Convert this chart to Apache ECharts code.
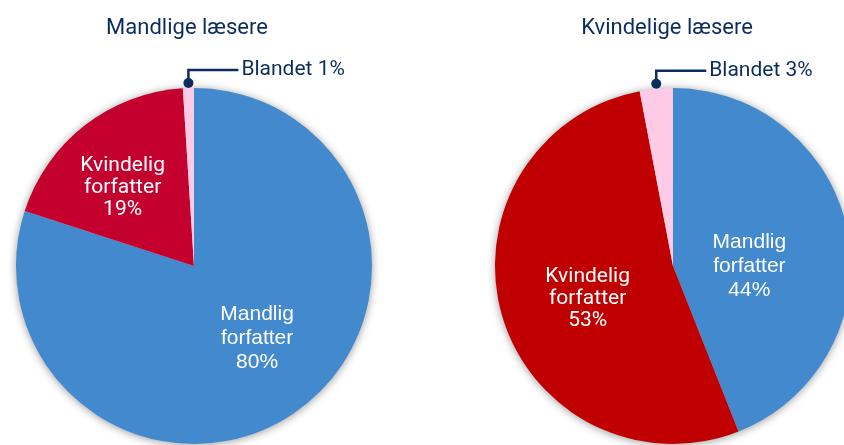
<!DOCTYPE html>
<html>
<head>
<meta charset="utf-8">
<script src="https://cdn.jsdelivr.net/npm/echarts@6/dist/echarts.min.js"></script>
<style>
  html, body { margin: 0; padding: 0; background: #fff; }
  #chart { width: 844px; height: 445px; }
</style>
</head>
<body>
<div id="chart"></div>
<script>
// data
var panelTitles = ['Mandlige læsere', 'Kvindelige læsere'];
var categories = ['Mandlig forfatter', 'Kvindelig forfatter', 'Blandet'];
var maleReaders = [80, 19, 1];
var femaleReaders = [44, 53, 3];

var navy = '#0b2d5e';
var blue = '#4389ce';
var pink = '#ffcae5';
var reds = ['#c4002f', '#c00000'];

var centers = [[194, 266], [673, 266]];
var R = 178;
// nudge for the inside labels (per panel, per slice)
var offsets = [
  [[9, -2], [-15, -6]],
  [[-14, 17], [3, 7]]
];

// point on the pie edge in the middle of a slice
function edgePoint(p, idx) {
  var vals = p == 0 ? maleReaders : femaleReaders;
  var total = 0, before = 0;
  for (var i = 0; i < vals.length; i++) {
    total += vals[i];
    if (i < idx) before += vals[i];
  }
  var a = (before + vals[idx] / 2) / total * 2 * Math.PI;
  return [centers[p][0] + R * Math.sin(a), centers[p][1] - R * Math.cos(a)];
}

function buildData(p) {
  var vals = p == 0 ? maleReaders : femaleReaders;
  var colors = [blue, reds[p], pink];
  return vals.map(function (v, i) {
    var d = { name: categories[i], value: v, itemStyle: { color: colors[i] } };
    if (i < 2) {
      d.label = {
        position: 'inside',
        offset: offsets[p][i],
        formatter: categories[i].replace(' ', '\n') + '\n' + v + '%',
        fontFamily: i == 0 ? 'Liberation Sans' : 'Roboto',
        lineHeight: i == 0 ? 24 : 22
      };
      d.labelLine = { show: false };
    } else {
      d.label = {
        position: 'outside',
        color: navy,
        fontFamily: 'Roboto',
        fontSize: 21,
        formatter: categories[i] + ' ' + v + '%'
      };
      d.labelLine = { show: true, lineStyle: { color: navy, width: 2.5 } };
    }
    return d;
  });
}

function pieSeries(p) {
  return {
    type: 'pie',
    center: centers[p],
    radius: R,
    startAngle: 90,
    clockwise: true,
    z: 2,
    silent: true,
    label: { color: '#fff', fontSize: 21 },
    labelLayout: function (params) {
      if (params.dataIndex != 2) return;
      var e = edgePoint(p, 2);
      var y = e[1] - 18;
      return {
        x: e[0] + 53,
        y: y,
        align: 'left',
        verticalAlign: 'middle',
        labelLinePoints: [[e[0], e[1] - 5], [e[0], y], [e[0] + 50, y]]
      };
    },
    data: buildData(p)
  };
}

function shadowSeries(p) {
  return {
    type: 'pie',
    center: centers[p],
    radius: R,
    z: 1,
    silent: true,
    label: { show: false },
    itemStyle: { color: '#ccc', shadowBlur: 8, shadowColor: 'rgba(0,0,0,0.4)', shadowOffsetY: 1 },
    data: [1]
  };
}

var chart = echarts.init(document.getElementById('chart'), null, { renderer: 'canvas' });

var titleStyle = { color: navy, fontFamily: 'Roboto', fontSize: 22, fontWeight: 'normal' };

var option = {
  animation: false,
  title: [
    { text: panelTitles[0], left: 182, top: 12, textAlign: 'center', textStyle: titleStyle },
    { text: panelTitles[1], left: 662, top: 12, textAlign: 'center', textStyle: titleStyle }
  ],
  series: [shadowSeries(0), shadowSeries(1), pieSeries(0), pieSeries(1)],
  graphic: [0, 1].map(function (p) {
    var e = edgePoint(p, 2);
    return {
      type: 'circle',
      z: 10,
      shape: { cx: e[0], cy: e[1] - 5, r: 5 },
      style: { fill: navy }
    };
  })
};

chart.setOption(option);
</script>
</body>
</html>
